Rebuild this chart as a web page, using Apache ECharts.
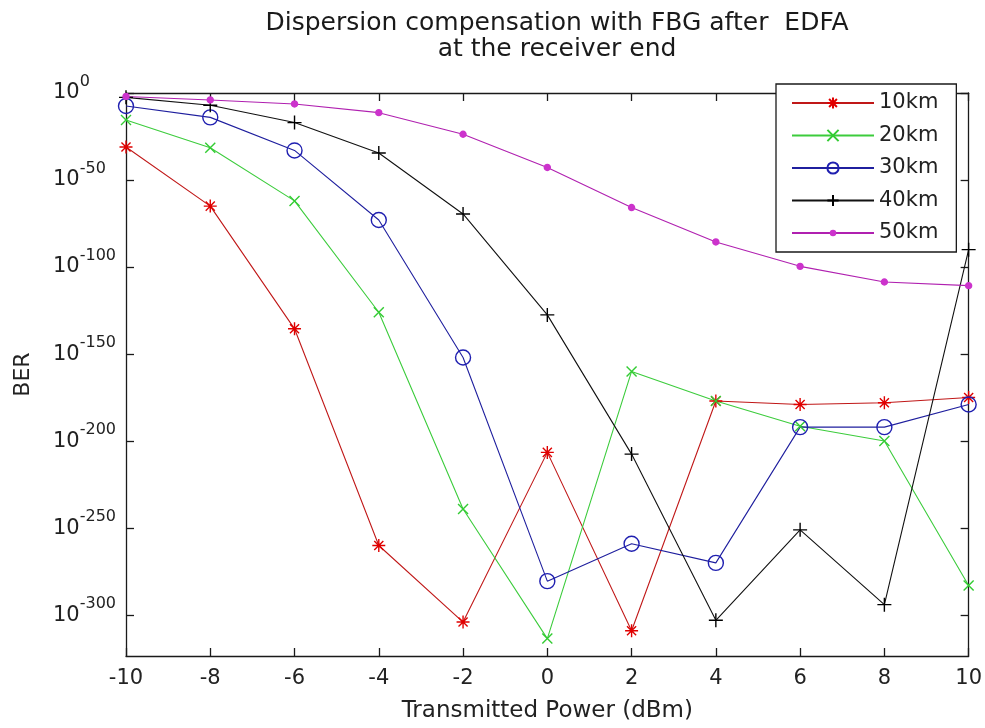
<!DOCTYPE html>
<html>
<head>
<meta charset="utf-8">
<script src="https://cdn.jsdelivr.net/npm/echarts@6/dist/echarts.min.js"></script>
<style>
html,body{margin:0;padding:0;background:#fff;}
#chart{width:985px;height:728px;}
</style>
</head>
<body>
<div id="chart"></div>
<script>
// Transmitted power (dBm)
const powers = [-10, -8, -6, -4, -2, 0, 2, 4, 6, 8, 10];
// BER as log10 exponents
const ber10km = [-31, -65, -135.5, -260, -304, -206.5, -309, -177, -179, -178, -175];
const ber20km = [-15.5, -31.5, -62, -126, -239, -313.5, -160, -177, -191.5, -200, -283];
const ber30km = [-7.5, -14, -33, -73, -152, -280.5, -259, -270, -192, -192, -179];
const ber40km = [-2.5, -7, -17, -34.5, -69.5, -127.5, -207.5, -303, -251, -294, -90];
const ber50km = [-2, -4, -6.3, -11.3, -23.7, -42.8, -65.8, -85.6, -99.6, -108.6, -110.7];
// y tick labels (exponents of 10)
const yTickExps = [0, -50, -100, -150, -200, -250, -300];
const seriesNames = ['10km', '20km', '30km', '40km', '50km'];

const FONT = 'DejaVu Sans';
const pair = arr => powers.map((p, i) => [p, arr[i]]);

const asterisk = 'path://M0,5L10,5M5,0L5,10M1.5,1.5L8.5,8.5M1.5,8.5L8.5,1.5';
const cross = 'path://M1,1L9,9M1,9L9,1';
const plus = 'path://M0,5L10,5M5,0L5,10';
const ring = 'path://M10,5A5,5,0,1,1,0,5A5,5,0,1,1,10,5Z';
const dot = 'path://M0,0M10,10M7,5A2,2,0,1,1,3,5A2,2,0,1,1,7,5Z';

function mk(name, data, lineColor, markColor, symbol, size, fillMarker) {
  return {
    name: name, type: 'line', data: pair(data),
    color: lineColor,
    symbol: symbol, symbolSize: size, symbolKeepAspect: true, showAllSymbol: true,
    lineStyle: {color: lineColor, width: 1.1},
    itemStyle: {color: fillMarker ? markColor : 'rgba(0,0,0,0)', borderColor: markColor, borderWidth: 1.4},
    emphasis: {disabled: true},
    z: 3
  };
}

const chart = echarts.init(document.getElementById('chart'));
const yAxisCommon = {
  type: 'value', min: -323.5, max: 0,
  splitLine: {show: false},
  axisLine: {show: true, onZero: false, lineStyle: {color: '#1a1a1a', width: 1.3}},
  axisTick: {show: true, inside: true, length: 8, customValues: yTickExps, lineStyle: {color: '#1a1a1a', width: 1.3}}
};
const xAxisCommon = {
  type: 'value', min: -10, max: 10, interval: 2,
  splitLine: {show: false},
  axisLine: {show: true, onZero: false, lineStyle: {color: '#1a1a1a', width: 1.3}},
  axisTick: {show: true, inside: true, length: 8, lineStyle: {color: '#1a1a1a', width: 1.3}}
};

chart.setOption({
  animation: false,
  backgroundColor: '#fff',
  title: {
    text: 'Dispersion compensation with FBG after  EDFA\nat the receiver end',
    left: 552, top: 5, textAlign: 'center',
    textStyle: {fontFamily: FONT, fontSize: 25, fontWeight: 'normal', color: '#1a1a1a', lineHeight: 26}
  },
  grid: {left: 126, right: 15, top: 93, bottom: 71},
  legend: {
    orient: 'vertical', left: 776, top: 84,
    data: seriesNames,
    backgroundColor: '#fff', borderColor: '#1a1a1a', borderWidth: 1.3, borderRadius: 0,
    padding: [8, 18, 8, 15],
    itemWidth: 82, itemHeight: 14, itemGap: 10.5,
    textStyle: {fontFamily: FONT, fontSize: 21, color: '#222', lineHeight: 22},
    selectedMode: false
  },
  xAxis: [
    Object.assign({}, xAxisCommon, {
      position: 'bottom',
      name: 'Transmitted Power (dBm)', nameLocation: 'middle', nameGap: 44,
      nameTextStyle: {fontFamily: FONT, fontSize: 23, color: '#222'},
      axisLabel: {fontFamily: FONT, fontSize: 21, color: '#222', margin: 12}
    }),
    Object.assign({}, xAxisCommon, {position: 'top', axisLabel: {show: false}})
  ],
  yAxis: [
    Object.assign({}, yAxisCommon, {
      position: 'left',
      name: 'BER', nameLocation: 'middle', nameGap: 92,
      nameTextStyle: {fontFamily: FONT, fontSize: 22, color: '#222'},
      axisLabel: {
        customValues: yTickExps, margin: 73, align: 'left',
        formatter: v => '{b|10}{e|' + (v === 0 ? '0' : String(v)) + '}',
        rich: {
          b: {fontFamily: FONT, fontSize: 21, color: '#222', lineHeight: 38, verticalAlign: 'middle'},
          e: {fontFamily: FONT, fontSize: 16, color: '#222', lineHeight: 16, verticalAlign: 'top'}
        }
      }
    }),
    Object.assign({}, yAxisCommon, {position: 'right', axisLabel: {show: false}})
  ],
  series: [
    mk('10km', ber10km, '#c01818', '#e00000', asterisk, 13, true),
    mk('20km', ber20km, '#3ccc3c', '#33cc33', cross, 10, true),
    mk('30km', ber30km, '#1f1f9e', '#1f1fb0', ring, 15, false),
    mk('40km', ber40km, '#111111', '#000000', plus, 14, true),
    mk('50km', ber50km, '#b020b0', '#cc33cc', dot, 15, true)
  ]
});
</script>
</body>
</html>
